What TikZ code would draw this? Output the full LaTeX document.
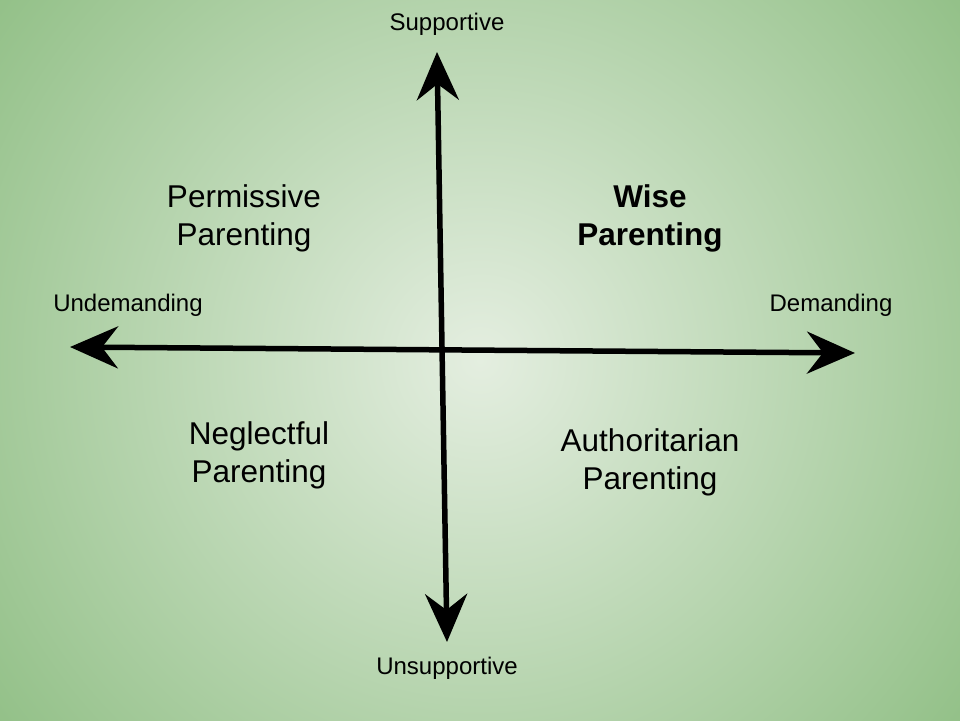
\documentclass[tikz,border=0pt]{standalone}
\usepackage{fontspec}
\setmainfont{Liberation Sans}
\usetikzlibrary{arrows.meta}
\begin{document}
\begin{tikzpicture}[x=1pt,y=-1pt,
  axis/.style={line width=5.5pt,{Stealth[length=48pt,width=42pt,inset=16pt]}-{Stealth[length=48pt,width=42pt,inset=16pt]}},
  small/.style={font=\fontsize{24}{28}\selectfont},
  big/.style={font=\fontsize{31.5}{38}\selectfont,align=center}]
\useasboundingbox (0,0) rectangle (960,720);
\begin{scope}
\clip (0,0) rectangle (960,720);
\shade[inner color={rgb,255:red,228;green,238;blue,224}, outer color={rgb,255:red,146;green,192;blue,135}] (480,360) circle[radius=610];
\end{scope}
\coordinate (T) at (437,52);
\coordinate (B) at (447,642);
\coordinate (L) at (70,347);
\coordinate (R) at (855,353);
\draw[axis] (T) -- (B);
\draw[axis] (L) -- (R);
\node[small] (sup) at (447,24) {Supportive};
\node[small] (uns) at (447,668) {Unsupportive};
\node[small] (und) at (128,305) {Undemanding};
\node[small] (dem) at (831,305) {Demanding};
\node[big] (perm) at (244,218) {Permissive\\Parenting};
\node[big,font=\fontsize{31.5}{38}\selectfont\bfseries] (wise) at (650,218) {Wise\\Parenting};
\node[big] (neg) at (259,455) {Neglectful\\Parenting};
\node[big] (auth) at (650,462) {Authoritarian\\Parenting};
\end{tikzpicture}
\end{document}
